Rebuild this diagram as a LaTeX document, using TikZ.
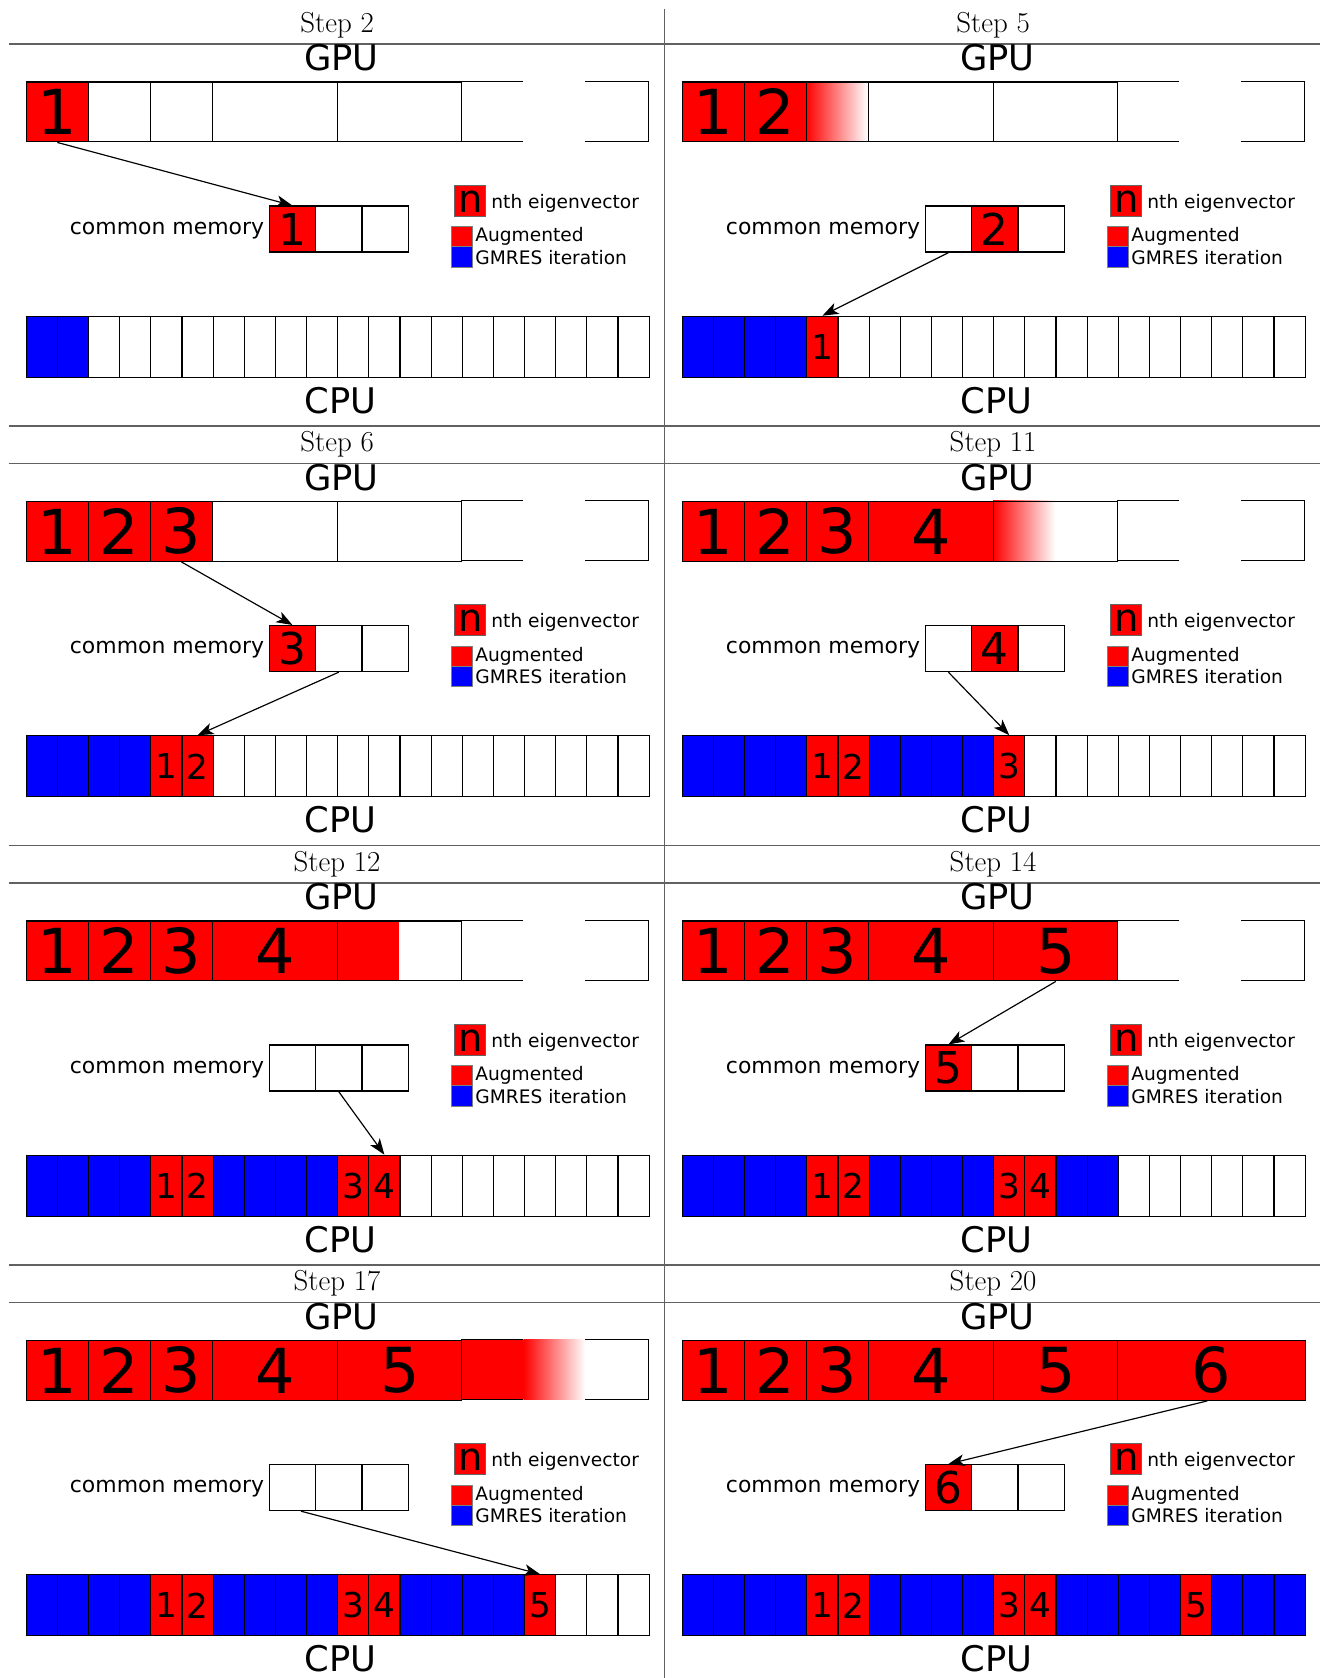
\documentclass[tikz,border=0pt]{standalone}
\usepackage{fontspec}
\newfontfamily\dvs{DejaVu Sans}
\usetikzlibrary{arrows.meta}
\tikzset{
  cellline/.style={draw=black, line width=1.1pt},
  cpucell/.style={cellline, inner sep=0pt, anchor=north west, minimum width=29.1pt, minimum height=57pt, font=\dvs\fontsize{32}{32}\selectfont},
  memcell/.style={cellline, inner sep=0pt, anchor=north west, minimum width=43.33pt, minimum height=43pt, font=\dvs\fontsize{41}{41}\selectfont},
  gpucell/.style={cellline, inner sep=0pt, anchor=north west, minimum height=56pt, font=\dvs\fontsize{58}{58}\selectfont},
  sepline/.style={draw=black!62, line width=1.2pt},
  arr/.style={-{Stealth[length=15pt,width=11pt,inset=4pt]}, line width=1.1pt},
  unitlbl/.style={font=\dvs\fontsize{33}{33}\selectfont, inner sep=0pt, anchor=base},
  steptitle/.style={font=\fontsize{27}{27}\selectfont, inner sep=0pt, anchor=base},
  memtxt/.style={font=\dvs\fontsize{20.5}{20.5}\selectfont, inner sep=0pt, anchor=base east},
  legtxt/.style={font=\dvs\fontsize{17.4}{17.4}\selectfont, inner sep=0pt, anchor=base west},
  legn/.style={draw=black!60, line width=0.8pt, fill=red, minimum size=29pt, inner sep=0pt, text height=22pt, text depth=0pt, font=\dvs\fontsize{36}{36}\selectfont},
  legsq/.style={draw=black!50, line width=0.6pt, minimum size=19pt, inner sep=0pt},
}
\newcommand\panelbase[4]{%
  \node[steptitle] (#1-t) at (315,30) {#2};
  \node[unitlbl] (#1-gpu) at (319,66) {GPU};
  \node[unitlbl] (#1-cpu) at (318,386) {CPU};
  \node[memtxt] (#1-cm) at (247,219) {common memory};
  \foreach \col/\lab [count=\i] in {#3} {\node[memcell, fill=\col] (#1-m\i) at ({251+43.33*(\i-1)},192) {\lab};}
  \foreach \col/\lab [count=\i] in {#4} {\node[cpucell, fill=\col] (#1-c\i) at ({24+29.1*(\i-1)},295) {\lab};}
  \node[legn] (#1-ln) at (439.5,187.5) {n};
  \node[legtxt] (#1-lnt) at (459,194.5) {nth eigenvector};
  \node[legsq, fill=red] (#1-la) at (431.5,221) {};
  \node[legsq, fill=blue] (#1-lb) at (431.5,240) {};
  \node[legtxt] (#1-lat) at (444,226) {Augmented};
  \node[legtxt] (#1-lbt) at (444,247) {GMRES iteration};
}
\newcommand\gpurow[2]{%
  \foreach \col/\lab [count=\i] in {#2} {
    \pgfmathsetmacro\gx{{24,82,140,198,315,431}[\i-1]}
    \pgfmathsetmacro\gw{{58,58,58,117,116,175}[\i-1]}
    \node[gpucell, fill=\col, minimum width=\gw pt] (#1-g\i) at (\gx,76) {\lab};
  }}
\newcommand\gapcell{\draw[cellline] (431,76) -- (489,76) (431,132) -- (489,132) (547,76) -- (606,76) -- (606,132) -- (547,132);}
\begin{document}
\begin{tikzpicture}[x=1pt,y=-1pt]
\useasboundingbox (0,0) rectangle (1240,1568);
% separators
\draw[sepline] (621,8) -- (621,1568);
\foreach \r in {0,1,2,3} {\draw[sepline] (8,{41+392*\r}) -- (1233,{41+392*\r});}
\foreach \r in {1,2,3} {\draw[sepline] (8,{6+392*\r}) -- (1233,{6+392*\r});}

% Step 2
\begin{scope}[shift={(0,0)}]
\panelbase{P1}{Step 2}{red/1,white/{},white/{}}{blue/{},blue/{},white/{},white/{},white/{},white/{},white/{},white/{},white/{},white/{},white/{},white/{},white/{},white/{},white/{},white/{},white/{},white/{},white/{},white/{}}
\gpurow{P1}{red/1,white/{},white/{},white/{},white/{}}
\gapcell
\draw[arr] (P1-g1.south) -- (P1-m1.north);
\end{scope}

% Step 5
\begin{scope}[shift={(613,0)}]
\panelbase{P2}{Step 5}{white/{},red/2,white/{}}{blue/{},blue/{},blue/{},blue/{},red/1,white/{},white/{},white/{},white/{},white/{},white/{},white/{},white/{},white/{},white/{},white/{},white/{},white/{},white/{},white/{}}
\shade[left color=red, right color=white] (140,76) rectangle (198,132);
\gpurow{P2}{red/1,red/2,none/{},white/{},white/{}}
\gapcell
\draw[arr] (P2-m1.south) -- (P2-c5.north);
\end{scope}

% Step 6
\begin{scope}[shift={(0,392)}]
\panelbase{P3}{Step 6}{red/3,white/{},white/{}}{blue/{},blue/{},blue/{},blue/{},red/1,red/2,white/{},white/{},white/{},white/{},white/{},white/{},white/{},white/{},white/{},white/{},white/{},white/{},white/{},white/{}}
\gpurow{P3}{red/1,red/2,red/3,white/{},white/{}}
\gapcell
\draw[arr] (P3-g3.south) -- (P3-m1.north);
\draw[arr] (P3-m2.south) -- (P3-c6.north);
\end{scope}

% Step 11
\begin{scope}[shift={(613,392)}]
\panelbase{P4}{Step 11}{white/{},red/4,white/{}}{blue/{},blue/{},blue/{},blue/{},red/1,red/2,blue/{},blue/{},blue/{},blue/{},red/3,white/{},white/{},white/{},white/{},white/{},white/{},white/{},white/{},white/{}}
\shade[left color=red, right color=white] (315,76) rectangle (373,132);
\gpurow{P4}{red/1,red/2,red/3,red/4,none/{}}
\gapcell
\draw[arr] (P4-m1.south) -- (P4-c11.north);
\end{scope}

% Step 12
\begin{scope}[shift={(0,784)}]
\panelbase{P5}{Step 12}{white/{},white/{},white/{}}{blue/{},blue/{},blue/{},blue/{},red/1,red/2,blue/{},blue/{},blue/{},blue/{},red/3,red/4,white/{},white/{},white/{},white/{},white/{},white/{},white/{},white/{}}
\fill[red] (315,76) rectangle (373,132);
\gpurow{P5}{red/1,red/2,red/3,red/4,none/{}}
\gapcell
\draw[arr] (P5-m2.south) -- (P5-c12.north);
\end{scope}

% Step 14
\begin{scope}[shift={(613,784)}]
\panelbase{P6}{Step 14}{red/5,white/{},white/{}}{blue/{},blue/{},blue/{},blue/{},red/1,red/2,blue/{},blue/{},blue/{},blue/{},red/3,red/4,blue/{},blue/{},white/{},white/{},white/{},white/{},white/{},white/{}}
\gpurow{P6}{red/1,red/2,red/3,red/4,red/5}
\gapcell
\draw[arr] (P6-g5.south) -- (P6-m1.north);
\end{scope}

% Step 17
\begin{scope}[shift={(0,1176)}]
\panelbase{P7}{Step 17}{white/{},white/{},white/{}}{blue/{},blue/{},blue/{},blue/{},red/1,red/2,blue/{},blue/{},blue/{},blue/{},red/3,red/4,blue/{},blue/{},blue/{},blue/{},red/5,white/{},white/{},white/{}}
\fill[red] (431,76) rectangle (489,132);
\shade[left color=red, right color=white] (489,76) rectangle (547,132);
\gpurow{P7}{red/1,red/2,red/3,red/4,red/5}
\gapcell
\draw[arr] ([xshift=8pt]P7-m1.south) -- (P7-c17.north);
\end{scope}

% Step 20
\begin{scope}[shift={(613,1176)}]
\panelbase{P8}{Step 20}{red/6,white/{},white/{}}{blue/{},blue/{},blue/{},blue/{},red/1,red/2,blue/{},blue/{},blue/{},blue/{},red/3,red/4,blue/{},blue/{},blue/{},blue/{},red/5,blue/{},blue/{},blue/{}}
\gpurow{P8}{red/1,red/2,red/3,red/4,red/5,red/6}
\draw[arr] ([xshift=-4pt]P8-g6.south) -- (P8-m1.north);
\end{scope}
\end{tikzpicture}
\end{document}
